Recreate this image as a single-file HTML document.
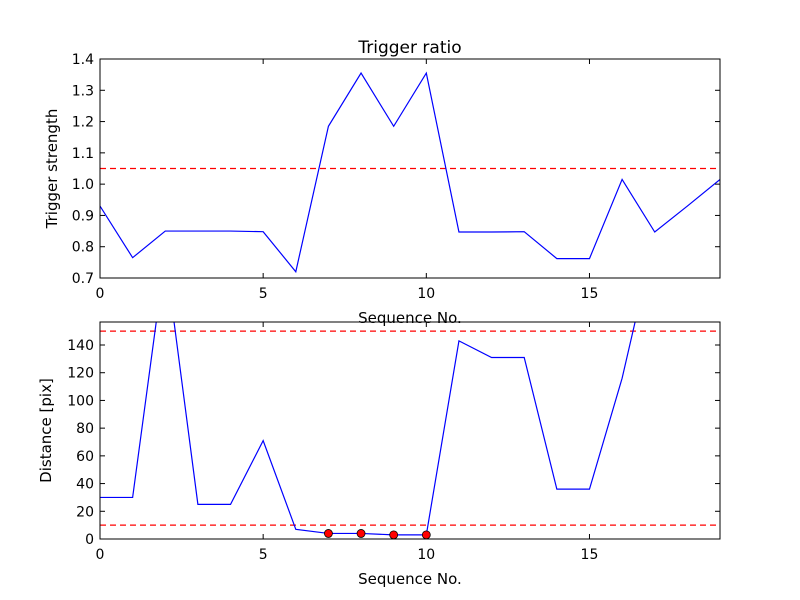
<!DOCTYPE html>
<html><head><meta charset="utf-8"><style>body{margin:0;background:#fff}svg{display:block;font-family:"DejaVu Sans","Liberation Sans",sans-serif}</style></head>
<body>
<svg id="c" width="800" height="600">
<rect width="800" height="600" fill="#fff"/>
<defs><clipPath id="c1"><rect x="100" y="59" width="620" height="219"/></clipPath><clipPath id="c2"><rect x="100" y="322" width="620" height="217"/></clipPath></defs>
</svg>
<script>
const seq=[0,1,2,3,4,5,6,7,8,9,10,11,12,13,14,15,16,17,18,19];
const ratio=[0.93,0.765,0.85,0.85,0.85,0.848,0.72,1.185,1.355,1.185,1.355,0.847,0.847,0.848,0.762,0.762,1.015,0.847,0.93,1.015];
const dist=[30,30,205,25,25,71,7,4,4,3,3,143,131,131,36,36,116,218,225,230];
const dotX=[7,8,9,10];
const dotY=[4,4,3,3];
const ratioThresh=[1.05];
const distThresh=[150,10];
const xTicks=[0,5,10,15];
const yTicks1=[0.7,0.8,0.9,1.0,1.1,1.2,1.3,1.4];
const yTicks2=[0,20,40,60,80,100,120,140];
const svg=document.getElementById('c');const NS='http://www.w3.org/2000/svg';
function mk(t,a,p){const e=document.createElementNS(NS,t);for(const k in a)e.setAttribute(k,a[k]);(p||svg).appendChild(e);return e;}
const L=100,R=720;const X=v=>L+(v-0)/(19-0)*(R-L);
function panel(top,bot,y0,y1,yt,data,thr,clip,ylabel,title,fmt,pn){
 const Y=v=>bot-(v-y0)/(y1-y0)*(bot-top);
 const g=mk('g',{});
 thr.forEach(t=>{const l=mk('line',{x1:L,x2:R,y1:Y(t),y2:Y(t),stroke:'#f00','stroke-dasharray':'6,4','stroke-width':1.2,'clip-path':clip},g);});
 const pl=mk('polyline',{points:seq.map((s,i)=>X(s)+','+Y(data[i])).join(' '),fill:'none',stroke:'#00f','stroke-width':1.2,'clip-path':clip},g);
 
 const fr=mk('rect',{x:L,y:top,width:R-L,height:bot-top,fill:'none',stroke:'#000'},g);
 xTicks.forEach(t=>{mk('line',{x1:X(t),x2:X(t),y1:bot,y2:bot-5,stroke:'#000'},g);mk('line',{x1:X(t),x2:X(t),y1:top,y2:top+5,stroke:'#000'},g);
  const tx=mk('text',{x:X(t),y:bot+20,'text-anchor':'middle','font-size':14},g);tx.textContent=t;});
 yt.forEach(t=>{mk('line',{x1:L,x2:L+5,y1:Y(t),y2:Y(t),stroke:'#000'},g);mk('line',{x1:R,x2:R-5,y1:Y(t),y2:Y(t),stroke:'#000'},g);
  const tx=mk('text',{x:L-6,y:Y(t)+5,'text-anchor':'end','font-size':14},g);tx.textContent=fmt(t);});
 const xl=mk('text',{x:(L+R)/2,y:bot+45,'text-anchor':'middle','font-size':15},g);xl.textContent='Sequence No.';
 const yl=mk('text',{x:0,y:0,'text-anchor':'middle','font-size':15,transform:`translate(${ylabel[1]},${(top+bot)/2}) rotate(-90)`},g);yl.textContent=ylabel[0];
 if(title){const tt=mk('text',{x:(L+R)/2,y:top-6,'text-anchor':'middle','font-size':17},g);tt.textContent=title;}
 return Y;}
panel(59,278,0.7,1.4,yTicks1,ratio,ratioThresh,'url(#c1)',['Trigger strength',57],'Trigger ratio',t=>t.toFixed(1),'top-panel');
const Y2=panel(322,539,0,156.6,yTicks2,dist,distThresh,'url(#c2)',['Distance [pix]',51],null,t=>t,'bottom-panel');
dotX.forEach((x,i)=>{const c=mk('circle',{cx:X(x),cy:Y2(dotY[i]),r:4,fill:'#f00',stroke:'#000','stroke-width':0.8});

});
</script>
</body></html>
